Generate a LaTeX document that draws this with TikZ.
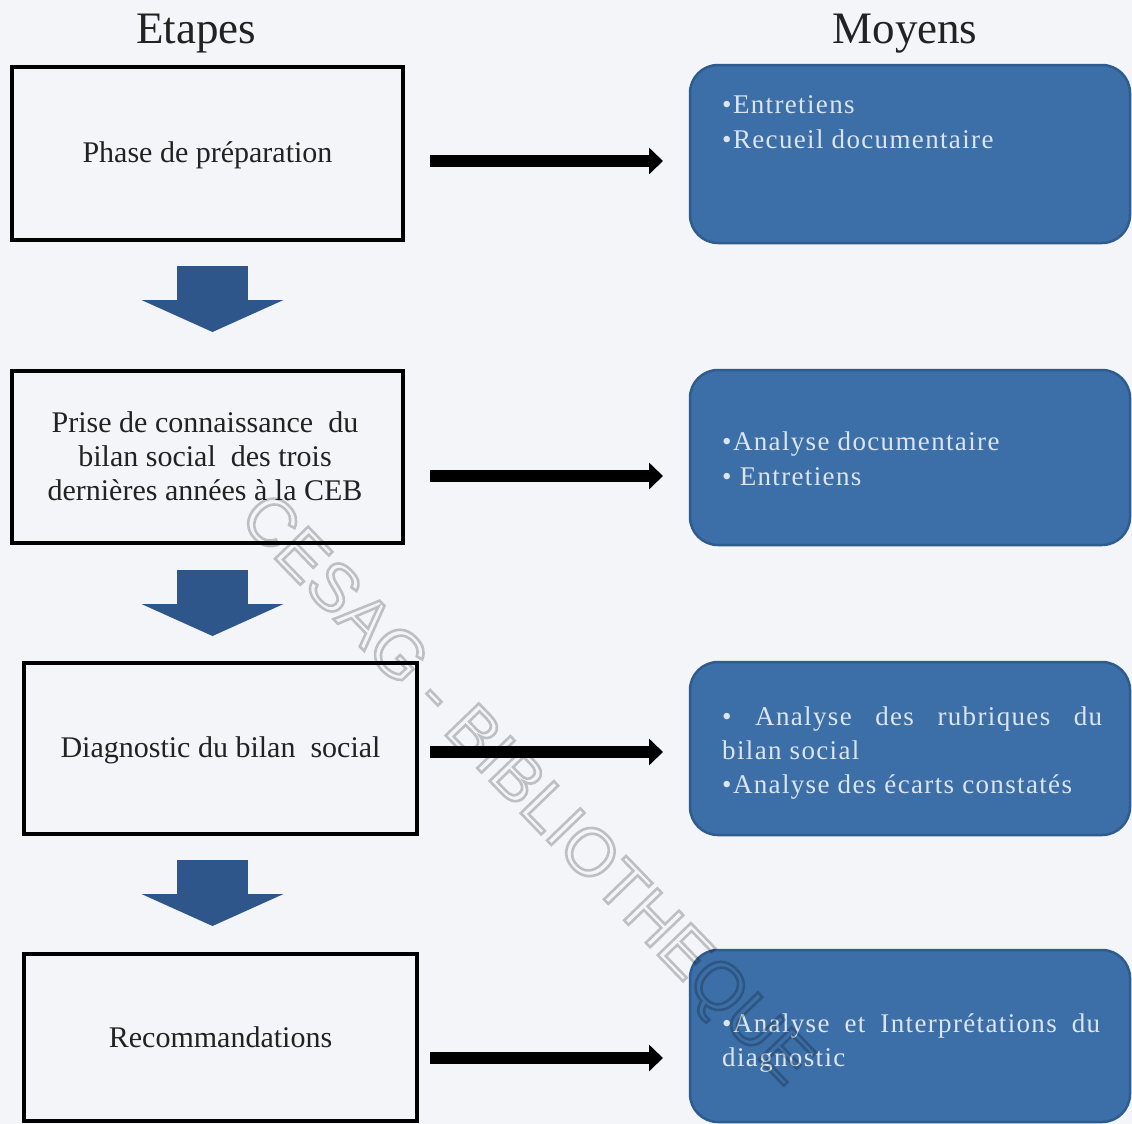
\documentclass[tikz,border=0pt]{standalone}
\usepackage{fontspec}
\usetikzlibrary{arrows.meta}
\setmainfont{Liberation Serif}
\newfontfamily\bluefont[LetterSpace=5]{Liberation Serif}
\newfontfamily\wmfont{Liberation Sans}
\definecolor{bg}{HTML}{F3F5F9}
\definecolor{boxblue}{HTML}{3C6FA7}
\definecolor{boxedge}{HTML}{2E5C90}
\definecolor{arrowblue}{HTML}{2F568A}
\definecolor{lighttext}{HTML}{DCE5EF}
\definecolor{darktext}{HTML}{222222}
\begin{document}
\begin{tikzpicture}[x=1bp,y=-1bp,
  stage/.style={draw=black, line width=4bp, inner sep=0pt, outer sep=0pt, rectangle},
  means/.style={draw=boxedge, fill=boxblue, line width=2.5bp, rounded corners=28bp,
                minimum width=440bp, inner sep=0pt, outer sep=0pt},
  title/.style={font=\fontsize{45bp}{50bp}\selectfont, anchor=base, inner sep=0pt, text=darktext},
  stagetext/.style={font=\fontsize{30bp}{34bp}\selectfont, anchor=base, inner sep=0pt, text=darktext},
  meanstext/.style={font=\bluefont\fontsize{27bp}{35bp}\selectfont, anchor=base west, inner sep=0pt, text=lighttext},
  rarrow/.style={draw=black, line width=12bp, -{Triangle[length=14bp,width=26bp]}},
  darrow/.style={draw=arrowblue, line width=71bp, -{Triangle[length=32bp,width=141bp]}}
]
\fill[bg] (0,0) rectangle (1132,1124);
\useasboundingbox (0,0) rectangle (1132,1124);

% titles
\node[title] (tE) at (196,43) {Etapes};
\node[title] (tM) at (905,43) {Moyens};

% stage boxes
\node[stage, minimum width=391bp, minimum height=173bp] (s1) at (207.5,153.5) {};
\node[stage, minimum width=391bp, minimum height=172bp] (s2) at (207.5,457) {};
\node[stage, minimum width=393bp, minimum height=171bp] (s3) at (220.5,748.5) {};
\node[stage, minimum width=393bp, minimum height=167bp] (s4) at (220.5,1037.5) {};

\node[stagetext] (s1a) at (207.5,162) {Phase de préparation};
\node[stagetext] (s2a) at (205,432) {Prise de connaissance\ \ du};
\node[stagetext] (s2b) at (205,466) {bilan social\ \ des trois};
\node[stagetext] (s2c) at (205,500) {dernières années à la CEB};
\node[stagetext] (s3a) at (220.5,757) {Diagnostic du bilan\ \ social};
\node[stagetext] (s4a) at (220.5,1047) {Recommandations};

% means boxes
\node[means, minimum height=178bp] (m1) at (910,154) {};
\node[means, minimum height=175bp] (m2) at (910,457.5) {};
\node[means, minimum height=173bp] (m3) at (910,748.5) {};
\node[means, minimum height=172bp] (m4) at (910,1036) {};

\node[meanstext] (m1a) at (722,113) {•Entretiens};
\node[meanstext] (m1b) at (722,148) {•Recueil documentaire};
\node[meanstext] (m2a) at (722,450) {•Analyse documentaire};
\node[meanstext] (m2b) at (722,485) {• Entretiens};
\node[meanstext] (m3a) at (722,725) {\makebox[380bp][s]{• Analyse des rubriques du}};
\node[meanstext] (m3b) at (722,759) {bilan social};
\node[meanstext] (m3c) at (722,793) {•Analyse des écarts constatés};
\node[meanstext] (m4a) at (722,1032) {\makebox[378bp][s]{•Analyse et Interprétations du}};
\node[meanstext] (m4b) at (722,1066) {diagnostic};

% horizontal arrows
\coordinate (r1a) at (430,161);  \coordinate (r1b) at (663,161);
\coordinate (r2a) at (430,476);  \coordinate (r2b) at (663,476);
\coordinate (r3a) at (430,752);  \coordinate (r3b) at (663,752);
\coordinate (r4a) at (430,1058); \coordinate (r4b) at (663,1058);
\draw[rarrow] (r1a) -- (r1b);
\draw[rarrow] (r2a) -- (r2b);
\draw[rarrow] (r3a) -- (r3b);
\draw[rarrow] (r4a) -- (r4b);

% down block arrows
\coordinate (d1a) at (212.5,266); \coordinate (d1b) at (212.5,332);
\coordinate (d2a) at (212.5,570); \coordinate (d2b) at (212.5,636);
\coordinate (d3a) at (212.5,860); \coordinate (d3b) at (212.5,926);
\draw[darrow] (d1a) -- (d1b);
\draw[darrow] (d2a) -- (d2b);
\draw[darrow] (d3a) -- (d3b);

% watermark
\node[rotate=-46, inner sep=0pt, text=black, text opacity=0.22,
      font=\wmfont\fontsize{67bp}{67bp}\selectfont] (wm) at (524,792)
  {\special{pdf:literal direct 1 Tr 2.6 w}CESAG - BIBLIOTHEQUE\special{pdf:literal direct 0 Tr}};
\end{tikzpicture}
\end{document}
